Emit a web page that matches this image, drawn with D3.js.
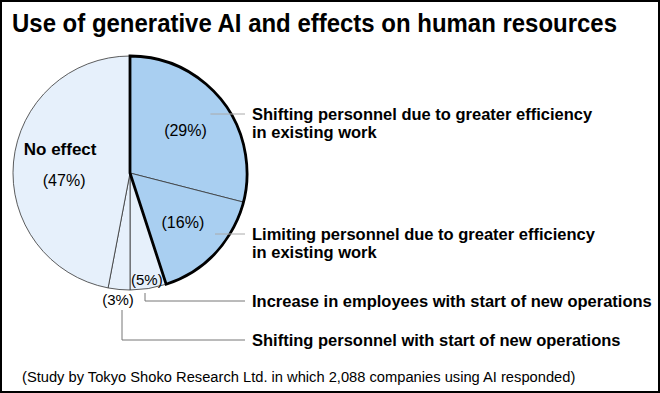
<!DOCTYPE html>
<html>
<head>
<meta charset="utf-8">
<script src="https://cdn.jsdelivr.net/npm/d3@7.9.0/dist/d3.min.js"></script>
<style>
  html, body { margin: 0; padding: 0; background: #fff; }
  svg { display: block; font-family: "Liberation Sans", Arial, sans-serif; }
</style>
</head>
<body>
<svg width="660" height="393"></svg>
<script>
const title = 'Use of generative AI and effects on human resources';
const source = '(Study by Tokyo Shoko Research Ltd. in which 2,088 companies using AI responded)';

// slices, clockwise from 12 o'clock
const categories = [
  'Shifting personnel due to greater efficiency|in existing work',
  'Limiting personnel due to greater efficiency|in existing work',
  'Increase in employees with start of new operations',
  'Shifting personnel with start of new operations',
  'No effect'
];
const shares = [29, 16, 5, 3, 47];
const highlighted = [true, true, false, false, false];

const svg = d3.select('svg');
const W = 660, H = 393;

svg.append('rect')
  .attr('x', 1).attr('y', 1).attr('width', W - 2).attr('height', H - 2)
  .attr('fill', '#fff').attr('stroke', '#000').attr('stroke-width', 2);

svg.append('text')
  .attr('x', 12).attr('y', 32)
  .attr('font-size', 25).attr('font-weight', 'bold')
  .attr('textLength', 605).attr('lengthAdjust', 'spacingAndGlyphs')
  .text(title);

const cx = 130, cy = 173, R = 117;
const g = svg.append('g').attr('transform', `translate(${cx},${cy})`);

const pie = d3.pie().sort(null).value(d => d.value);
const arcs = pie(shares.map((v, i) => ({ value: v, name: categories[i], hi: highlighted[i] })));
const arc = d3.arc().innerRadius(0).outerRadius(R);

g.selectAll('path.slice')
  .data(arcs)
  .join('path')
  .attr('class', 'slice')
  .attr('d', arc)
  .attr('fill', d => d.data.hi ? '#a9cff1' : '#e6f0fb')
  .attr('stroke', '#333')
  .attr('stroke-width', 0.8);

// bold outline around the highlighted group
const hiArcs = arcs.filter(d => d.data.hi);
g.append('path')
  .attr('d', arc({ startAngle: hiArcs[0].startAngle, endAngle: hiArcs[hiArcs.length - 1].endAngle }))
  .attr('fill', 'none')
  .attr('stroke', '#000')
  .attr('stroke-width', 2.8)
  .attr('stroke-linejoin', 'miter');

const polar = (a, r) => [Math.sin(a) * r, -Math.cos(a) * r];
const mid = d => (d.startAngle + d.endAngle) / 2;

// percentage labels
const pctRadius = [0.6, 0.62, 0.92, 1.09, 0.6];
const pctSize = [16, 16, 15, 15, 16];
arcs.forEach((d, i) => {
  const [x, y] = polar(mid(d), R * pctRadius[i]);
  if (i === 4) {
    g.append('text').attr('x', x).attr('y', y - 11)
      .attr('text-anchor', 'middle').attr('font-size', 17).attr('font-weight', 'bold')
      .text(d.data.name);
    g.append('text').attr('x', x + 4).attr('y', y + 20)
      .attr('text-anchor', 'middle').attr('font-size', 16)
      .text(`(${d.data.value}%)`);
  } else {
    g.append('text').attr('x', x).attr('y', y + pctSize[i] * 0.36)
      .attr('text-anchor', 'middle').attr('font-size', pctSize[i])
      .text(`(${d.data.value}%)`);
  }
});

// leader lines and category labels on the right
const labelX = 252, lineEnd = 245;
const leaderY = [114, 234, 301, 340];
const leaders = [
  { i: 0, start: polar(mid(arcs[0]), R * 0.87) },
  { i: 1, start: [215 - cx, 234 - cy] },
  { i: 2, start: [145 - cx, 293 - cy], elbow: true },
  { i: 3, start: [122 - cx, 310 - cy], elbow: true }
];

leaders.forEach(l => {
  const ly = leaderY[l.i];
  const sx = l.start[0] + cx, sy = l.start[1] + cy;
  const pts = l.elbow ? [[sx, sy], [sx, ly], [lineEnd, ly]] : [[sx, ly], [lineEnd, ly]];
  svg.append('path')
    .attr('d', d3.line()(pts))
    .attr('fill', 'none')
    .attr('stroke', l.elbow ? '#777' : '#aaa')
    .attr('stroke-width', 1);

  const lines = categories[l.i].split('|');
  const t = svg.append('text')
    .attr('x', labelX).attr('y', ly + 6)
    .attr('font-size', 16.5).attr('font-weight', 'bold');
  lines.forEach((s, k) => {
    t.append('tspan').attr('x', labelX).attr('dy', k === 0 ? 0 : 18).text(s);
  });
});

svg.append('text')
  .attr('x', 22).attr('y', 382)
  .attr('font-size', 14.7)
  .text(source);
</script>
</body>
</html>
